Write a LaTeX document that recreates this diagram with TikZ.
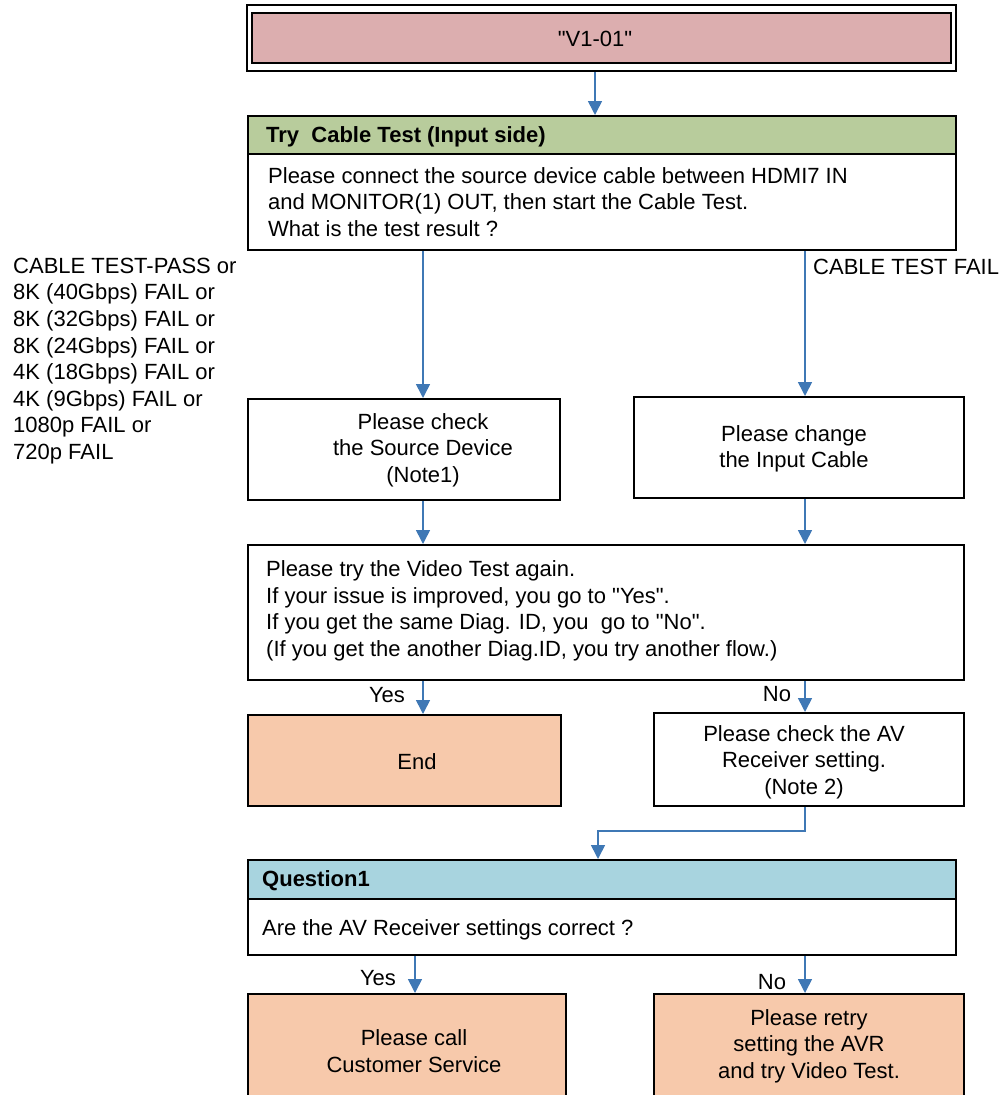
\documentclass[tikz,border=0pt]{standalone}
\usepackage{fontspec}
% straight double quotes are kept as typed
\defaultfontfeatures[\rmfamily]{}
\setmainfont{Liberation Sans}
\usetikzlibrary{arrows.meta}

\definecolor{flowblue}{HTML}{3F78B5}
\definecolor{idpink}{HTML}{DCAEAF}
\definecolor{headgreen}{HTML}{B8CC9C}
\definecolor{headblue}{HTML}{A8D4DF}
\definecolor{endpeach}{HTML}{F7C9AB}

\newcommand\flowfont{\fontsize{22}{26.6}\selectfont}

\tikzset{
  frame/.style={draw=black, line width=2pt, inner sep=0pt},
  txt/.style={font=\flowfont, align=center, inner sep=0pt},
  ltxt/.style={font=\flowfont, align=left, inner sep=0pt, anchor=west},
  htxt/.style={font=\flowfont\bfseries, inner sep=0pt, anchor=west},
  flow/.style={draw=flowblue, line width=1.6pt,
    -{Triangle[length=14pt,width=14pt]}},
}

\begin{document}
\begin{tikzpicture}[x=1pt,y=-1pt]
\useasboundingbox (0,0) rectangle (999,1095);

% columns used by the connectors
\coordinate (cT) at (595,0);
\coordinate (cL) at (423,0);
\coordinate (cR) at (805,0);
\coordinate (cM) at (598,0);
\coordinate (cQ) at (415,0);

% diagnosis id
\node[frame, minimum width=709pt, minimum height=66pt] (top) at (601.5,38) {};
\node[draw=black, line width=1.2pt, fill=idpink, minimum width=699pt,
      minimum height=50pt, inner sep=0pt] (topin) at (601.5,38) {};
\node[txt] (toptxt) at (595,39) {"V1-01"};

% cable test
\node[frame, fill=headgreen, minimum width=708pt, minimum height=38pt] (h1) at (602,135) {};
\node[htxt] (h1t) at (266,137) {Try~~Cable Test (Input side)};
\node[frame, minimum width=708pt, minimum height=96pt] (b1) at (602,202) {};
\node[ltxt] (b1t) at (268,202) {Please connect the source device cable between HDMI7 IN\\
  and MONITOR(1) OUT, then start the Cable Test.\\
  What is the test result ?};

% branch labels
\node[ltxt] (passlbl) at (13,361) {CABLE TEST-PASS or\\8K (40Gbps) FAIL or\\
  8K (32Gbps) FAIL or\\8K (24Gbps) FAIL or\\4K (18Gbps) FAIL or\\
  4K (9Gbps) FAIL or\\1080p FAIL or\\720p FAIL};
\node[ltxt] (faillbl) at (813,267) {CABLE TEST FAIL};

% actions
\node[frame, minimum width=312pt, minimum height=101pt] (src) at (404,449.5) {};
\node[txt] (srct) at (423,450) {Please check\\the Source Device\\(Note1)};
\node[frame, minimum width=330pt, minimum height=101pt] (chg) at (799,447.5) {};
\node[txt] (chgt) at (794,449) {Please change\\the Input Cable};

% video test
\node[frame, minimum width=716pt, minimum height=135pt] (vt) at (606,612.5) {};
\node[ltxt] (vtt) at (266,611) {Please try the Video Test again.\\
  If your issue is improved, you go to "Yes".\\
  If you get the same Diag. ID, you~~go to "No".\\
  (If you get the another Diag.ID, you try another flow.)};

\node[txt] (yes1) at (387,695) {Yes};
\node[txt] (no1) at (777,694) {No};

\node[frame, fill=endpeach, minimum width=313pt, minimum height=91pt] (endb) at (404.5,760.5) {};
\node[txt] (endt) at (417,762) {End};
\node[frame, minimum width=310pt, minimum height=93pt] (avb) at (809,759.5) {};
\node[txt] (avt) at (804,762) {Please check the AV\\Receiver setting.\\(Note 2)};

% question
\node[frame, fill=headblue, minimum width=708pt, minimum height=39pt] (q1) at (602,879.5) {};
\node[htxt] (q1t) at (262,881) {Question1};
\node[frame, minimum width=708pt, minimum height=56pt] (q1b) at (602,927) {};
\node[ltxt] (q1bt) at (262,930) {Are the AV Receiver settings correct ?};

\node[txt] (yes2) at (378,978) {Yes};
\node[txt] (no2) at (772,982) {No};

\node[frame, fill=endpeach, minimum width=318pt, minimum height=108pt] (csb) at (407,1048) {};
\node[txt] (cst) at (414,1051) {Please call\\Customer Service};
\node[frame, fill=endpeach, minimum width=310pt, minimum height=108pt] (rtb) at (809,1048) {};
\node[txt] (rtt) at (809,1046) {Please retry\\setting the AVR\\and try Video Test.};

% connectors
\draw[flow] (top.south -| cT) -- (h1.north -| cT);
\draw[flow] (b1.south -| cL) -- (src.north -| cL);
\draw[flow] (b1.south -| cR) -- (chg.north -| cR);
\draw[flow] (src.south -| cL) -- (vt.north -| cL);
\draw[flow] (chg.south -| cR) -- (vt.north -| cR);
\draw[flow] (vt.south -| cL) -- (endb.north -| cL);
\draw[flow] (vt.south -| cR) -- (avb.north -| cR);
\coordinate (turn) at (0,831);
\draw[flow] (avb.south -| cR) -- (cR |- turn) -- (cM |- turn) -- (q1.north -| cM);
\draw[flow] (q1b.south -| cQ) -- (csb.north -| cQ);
\draw[flow] (q1b.south -| cR) -- (rtb.north -| cR);
\end{tikzpicture}
\end{document}
